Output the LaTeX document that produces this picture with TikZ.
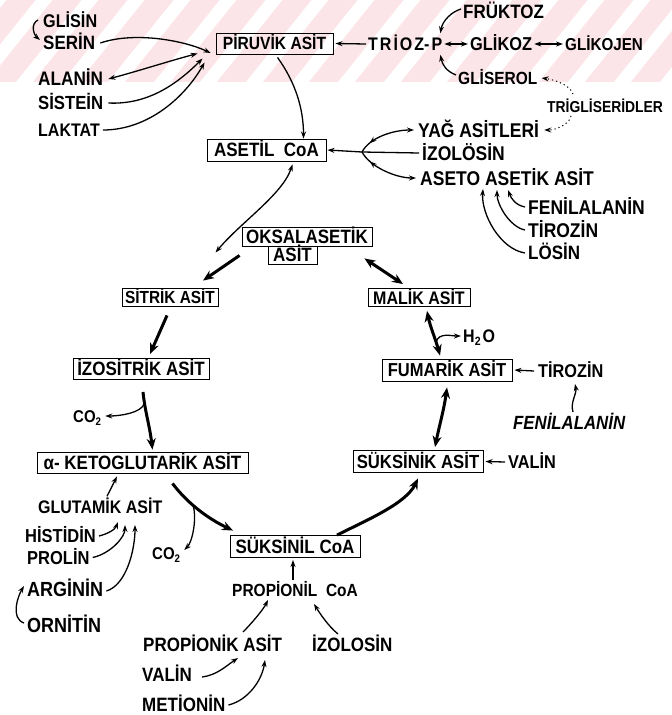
\documentclass[tikz,border=0pt]{standalone}
\usepackage{fontspec}
\setmainfont{Liberation Sans}[FakeStretch=0.88]
\usetikzlibrary{arrows.meta,decorations.markings}
\definecolor{band}{RGB}{251,229,232}

\begin{document}
\begin{tikzpicture}[x=1pt,y=-1pt,
  fsz/.style={/utils/exec={\pgfmathsetmacro\fszv{#1*1.136}},
    font=\fontsize{\fszv}{\fszv}\selectfont\bfseries, text height={0.72*1.136*#1}, text depth=0pt},
  lbl/.style={inner sep=0pt, anchor=west},
  box/.style={draw, line width=0.9pt, inner sep=0pt},
  tip/.tip={Stealth[length=7pt,width=5pt]},
  bigtip/.tip={Stealth[length=11pt,width=9pt]},
  ar/.style={line width=1.3pt, -tip},
  ard/.style={line width=1.3pt, tip-tip},
  dotline/.style={line width=1pt, dash pattern=on 1.2pt off 3pt, -tip},
  cyc/.style={line width=3pt, -bigtip},
  cycd/.style={line width=3pt, bigtip-bigtip},
  rev/.style={postaction={decorate,decoration={markings,
      mark=at position #1 with {\arrowreversed{Stealth[length=7pt,width=5pt]}}}}}
]
\useasboundingbox (0,0) rectangle (672,715);

% faint striped band along the top edge
\begin{scope}
  \clip (0,0) rectangle (672,82);
  \fill[band] (0,0) rectangle (672,82);
  \foreach \s in {-120,-74,...,760}
    \draw[white, line width=13pt] (\s,90) -- (\s+80,-10);
\end{scope}

% ---------- top: glycolysis side ----------
\node[lbl,fsz=16.2] (glisin) at (43,21) {GLİSİN};
\node[lbl,fsz=17] (serin) at (43,43) {SERİN};
\node[lbl,fsz=17.2] (alanin) at (38,78) {ALANİN};
\node[lbl,fsz=16.7] (sistein) at (38,103) {SİSTEİN};
\node[lbl,fsz=16] (laktat) at (38,130) {LAKTAT};
\node[box,fsz=15.6,minimum width=117,minimum height=21] (piruvik) at (274.5,43.5) {PİRUVİK ASİT};
\node[lbl,fsz=16] (triozp) at (368,44) {T\kern2pt R\kern2pt İ\kern2pt O\kern2pt Z-\kern2pt P};
\node[lbl,fsz=17] (fruktoz) at (463,12) {FRÜKTOZ};
\node[lbl,fsz=16.4] (glikoz) at (470,44) {GLİKOZ};
\node[lbl,fsz=15.2] (glikojen) at (565,44) {GLİKOJEN};
\node[lbl,fsz=15.5] (gliserol) at (458,78) {GLİSEROL};
\node[lbl,fsz=13.9] (trig) at (547,107) {TRİGLİSERİDLER};

% ---------- acetyl-CoA and its sources ----------
\node[lbl,fsz=17.5] (yag) at (418,130) {YAĞ ASİTLERİ};
\node[box,fsz=17,minimum width=119,minimum height=22] (asetil) at (266.5,150) {ASETİL\ \ CoA};
\node[lbl,fsz=17.5] (izolosin) at (422,153) {İZOLÖSİN};
\node[lbl,fsz=17.5] (aseto) at (420,178) {ASETO ASETİK ASİT};
\node[lbl,fsz=17.5] (fen1) at (528,207) {FENİLALANİN};
\node[lbl,fsz=17.5] (tir1) at (528,230) {TİROZİN};
\node[lbl,fsz=17] (losin) at (528,253) {LÖSİN};

% ---------- citric acid cycle ----------
\node[box,fsz=17,minimum width=130,minimum height=19] (oks1) at (307,236.5) {OKSALASETİK};
\node[box,fsz=17,minimum width=49,minimum height=18] (oks2) at (292.5,255) {ASİT};
\node[box,fsz=15.4,minimum width=96,minimum height=18] (sitrik) at (170,297) {SİTRİK ASİT};
\node[box,fsz=16,minimum width=102,minimum height=18] (malik) at (419,297.5) {MALİK ASİT};
\node[box,fsz=17,minimum width=136,minimum height=21] (izo) at (141,369) {İZOSİTRİK ASİT};
\node[box,fsz=16.5,minimum width=130,minimum height=22] (fum) at (447,370) {FUMARİK ASİT};
\node[box,fsz=17,minimum width=211,minimum height=21] (aketo) at (142.5,462.5) {α- KETOGLUTARİK ASİT};
\node[box,fsz=16.7,minimum width=130,minimum height=22] (suksinik) at (418,461.5) {SÜKSİNİK ASİT};
\node[box,fsz=17,minimum width=130,minimum height=22] (suksinil) at (295,546.5) {SÜKSİNİL CoA};

\node[lbl,fsz=16] (h2o) at (463,336) {H\raisebox{-3pt}{\fontsize{12}{12}\selectfont 2}\kern2pt O};
\node[lbl,fsz=16.3] (tir2) at (538,371) {TİROZİN};
\node[lbl,fsz=16.8] (fen2) at (513,423) {\itshape FENİLALANİN};
\node[lbl,fsz=15] (co2a) at (73,416) {CO\raisebox{-3pt}{\fontsize{11}{11}\selectfont 2}};
\node[lbl,fsz=16.3] (valin1) at (508,462) {VALİN};

% ---------- amino acids feeding the lower half ----------
\node[lbl,fsz=16] (glutamik) at (38,507) {GLUTAMİK ASİT};
\node[lbl,fsz=16.5] (histidin) at (25,536) {HİSTİDİN};
\node[lbl,fsz=16.5] (prolin) at (27,557.5) {PROLİN};
\node[lbl,fsz=18] (arginin) at (27,589) {ARGİNİN};
\node[lbl,fsz=18] (ornitin) at (27,625) {ORNİTİN};
\node[lbl,fsz=15] (co2b) at (152,553) {CO\raisebox{-3pt}{\fontsize{11}{11}\selectfont 2}};
\node[lbl,fsz=15.5] (propionil) at (232,590) {PROPİONİL\ \ CoA};
\node[lbl,fsz=17] (propionik) at (143,645) {PROPİONİK ASİT};
\node[lbl,fsz=17] (izolosin2) at (312,645) {İZOLOSİN};
\node[lbl,fsz=17] (valin2) at (142,675) {VALİN};
\node[lbl,fsz=17] (metionin) at (142,705) {METİONİN};

% ---------- thin connectors, top ----------
\draw[ar] ([shift={(-5,-1)}]glisin.west) .. controls +(-8,4) and +(-6,-5) .. ([shift={(-3,-3)}]serin.west);
\draw[ar] ([xshift=5]serin.east) .. controls +(35,-12) and +(-25,-12) .. ([shift={(-5,9.5)}]piruvik.west);
\draw[ard] ([shift={(5,1)}]alanin.east) .. controls +(30,-8) and +(-30,8) .. ([shift={(-18,10)}]piruvik.west);
\draw[ar] ([xshift=5]sistein.east) .. controls +(40,2) and +(-25,25) .. ([shift={(-13,15)}]piruvik.west);
\draw[ar] ([xshift=3]laktat.east) .. controls +(45,0) and +(-20,35) .. ([shift={(-11,19)}]piruvik.west);
\draw[ar] ([shift={(3,3)}]piruvik.south) .. controls +(18,25) and +(0,-30) .. ([shift={(37,0)}]asetil.north);

\draw[ar] ([xshift=-2]triozp.west) -- ([xshift=2]piruvik.east);
\draw[ard] ([xshift=2]triozp.east) -- ([xshift=-2]glikoz.west);
\draw[ard] ([xshift=2]glikoz.east) -- ([xshift=-2]glikojen.west);
\draw[ar] ([shift={(-2,-3)}]fruktoz.west) .. controls +(-10,3) and +(2,-12) .. ([shift={(-2,-4)}]triozp.north east);
\draw[ar] ([shift={(-2,-3)}]gliserol.west) .. controls +(-10,-4) and +(2,10) .. ([shift={(-2,4)}]triozp.south east);
\draw[dotline] ([shift={(26,-7)}]trig.north west) .. controls +(-2,-8) and +(15,2) .. ([xshift=4]gliserol.east);
\draw[dotline] ([shift={(24,3)}]trig.south west) .. controls +(-1,8) and +(12,0) .. ([xshift=5]yag.east);

% fan of sources into acetyl-CoA
\coordinate (hub) at (362,152);
\draw[ar] (hub) -- ([xshift=1]asetil.east);
\draw[line width=1.3pt] ([xshift=-3]izolosin.west) -- (hub);
\draw[ar, rev=0.2] (hub) .. controls +(8,-15) and +(-20,0) .. ([xshift=-4]yag.west);
\draw[ar, rev=0.2] (hub) .. controls +(8,15) and +(-20,0) .. ([xshift=-4]aseto.west);
\draw[ar] ([xshift=-3]fen1.west) .. controls +(-10,-2) and +(3,8) .. ([shift={(88,12)}]aseto.west);
\draw[ar] ([xshift=-3]tir1.west) .. controls +(-15,-3) and +(0,15) .. ([shift={(77,12)}]aseto.west);
\draw[ar] ([xshift=-3]losin.west) .. controls +(-25,-4) and +(-2,25) .. ([shift={(63,11)}]aseto.west);

% acetyl-CoA into the cycle
\draw[ard] ([shift={(26,3)}]asetil.south) .. controls +(-10,30) and +(25,-30) .. ([shift={(-26,16)}]oks1.west);

% ---------- cycle arrows ----------
\draw[cyc] ([shift={(-2,9)}]oks1.south west) -- ([shift={(33,-7)}]sitrik.north);
\draw[cycd] ([shift={(-8,12)}]oks1.south east) -- ([shift={(-16,-4)}]malik.north);
\draw[cyc] ([shift={(-3,9)}]sitrik.south) -- ([shift={(9,-4)}]izo.north);
\draw[cyc] ([shift={(2,12)}]izo.south) .. controls +(2,20) and +(-3,-25) .. ([shift={(10,-2)}]aketo.north) coordinate[pos=0.2] (b1);
\draw[ar] (b1) .. controls +(-3,10) and +(14,0) .. ([xshift=4]co2a.east);
\draw[cyc] ([shift={(30,10)}]aketo.south) .. controls +(15,20) and +(-25,-12) .. ([shift={(-62,-4.5)}]suksinil.north) coordinate[pos=0.4] (b2);
\draw[ar] (b2) .. controls +(4,14) and +(8,-8) .. ([shift={(4,-3)}]co2b.east);
\draw[cyc] ([shift={(42,0)}]suksinil.north) .. controls +(30,-15) and +(-12,25) .. ([shift={(0,5.5)}]suksinik.south);
\draw[cycd] ([shift={(17,-3)}]suksinik.north) .. controls +(4,-20) and +(-3,22) .. ([shift={(0,6)}]fum.south);
\draw[cycd] ([shift={(-7,-3)}]fum.north) .. controls +(-4,-15) and +(3,15) .. ([shift={(8,4)}]malik.south) coordinate[pos=0.3] (b3);
\draw[ar] (b3) .. controls +(3,-10) and +(-10,0) .. ([xshift=-2]h2o.west);

% ---------- thin connectors, right and bottom ----------
\draw[ar] ([xshift=-4]tir2.west) -- ([xshift=2]fum.east);
\draw[ar] ([shift={(60,-11)}]fen2.west) .. controls +(-3,-10) and +(2,10) .. ([shift={(37,13)}]tir2.west);
\draw[ar] ([xshift=-3]valin1.west) -- ([xshift=2]suksinik.east);

\draw[ar] ([shift={(69,-4)}]glutamik.north west) -- ([shift={(-25.5,3)}]aketo.south);
\draw[ar] ([xshift=3]histidin.east) .. controls +(8,-2) and +(-3,8) .. ([shift={(80,15)}]glutamik.west);
\draw[ar] ([xshift=3]prolin.east) .. controls +(18,-4) and +(0,12) .. ([shift={(87,18)}]glutamik.west);
\draw[ar] ([shift={(3,2)}]arginin.east) .. controls +(20,-6) and +(0,25) .. ([shift={(97,18)}]glutamik.west);
\draw[ar] ([shift={(-3,-2)}]ornitin.west) .. controls +(-14,-5) and +(-6,10) .. ([shift={(-3,-3)}]arginin.west);

\draw[ar] ([shift={(61,-10)}]propionil.west) -- ([shift={(-2,2)}]suksinil.south);
\draw[ar] ([shift={(100,-13)}]propionik.west) .. controls +(8,-8) and +(-5,10) .. ([shift={(36,10)}]propionil.west);
\draw[ar] ([shift={(26,-11)}]izolosin2.west) .. controls +(-10,-8) and +(5,8) .. ([shift={(82,14)}]propionil.west);
\draw[ar] ([shift={(10,2)}]valin2.east) .. controls +(15,-2) and +(-12,8) .. ([shift={(95,13)}]propionik.west);
\draw[ar] ([xshift=3]metionin.east) .. controls +(20,-5) and +(-3,20) .. ([shift={(122,15)}]propionik.west);
\end{tikzpicture}
\end{document}
